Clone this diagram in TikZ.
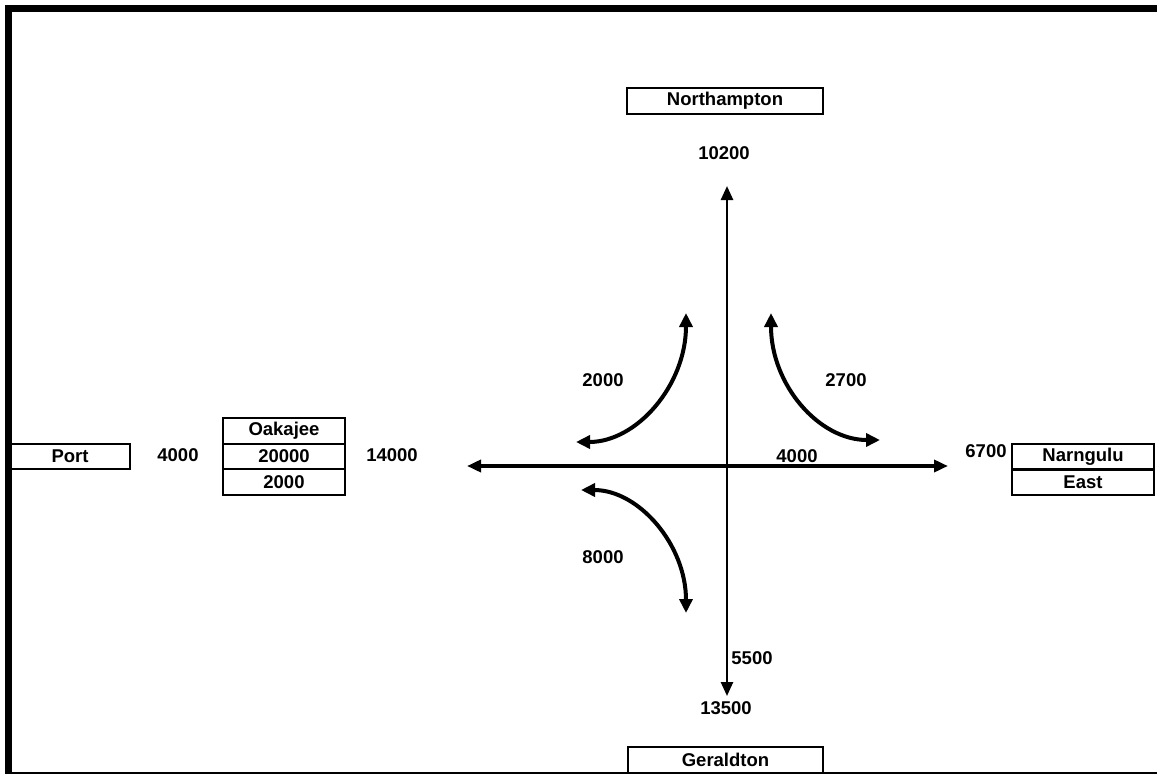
\documentclass[tikz,border=0pt]{standalone}
\usepackage{fontspec}
\setmainfont{Liberation Sans}
\usetikzlibrary{arrows.meta}
\usetikzlibrary{positioning}

\tikzset{
  cell/.style={draw=black, line width=2pt, minimum width=#1, minimum height=25.5pt, inner sep=0pt, anchor=north west},
  flow/.style={inner sep=0pt},
  axis/.style={{Triangle[length=14pt,width=12pt]}-{Triangle[length=14pt,width=12pt]}},
  turn/.style={line width=4pt, {Triangle[length=14pt,width=13pt]}-{Triangle[length=14pt,width=13pt]}},
}

\begin{document}
\begin{tikzpicture}[x=1pt, y=-1pt, font=\fontsize{18.5}{21}\selectfont\bfseries]
\useasboundingbox (0,0) rectangle (1157,774);

% frame
\draw[line width=6.5pt, line join=miter] (8.5,776) -- (8.5,8.5) -- (1160,8.5);
\draw[line width=2pt] (8.5,772.5) -- (1157,772.5);

% places
\node[cell=196pt] (north) at (626,87) {Northampton};
\node[cell=195pt, minimum height=27pt] (south) at (627,745.5) {Geraldton};
\node[cell=120pt] (port) at (9,442.5) {Port};
\node[cell=122pt] (oak) at (222,417) {Oakajee};
\node[cell=122pt] (oaka) at (222,442.5) {20000};
\node[cell=122pt] (oakb) at (222,468) {2000};
\node[cell=142pt] (narn) at (1011,443) {Narngulu};
\node[cell=142pt] (east) at (1011,468) {East};

% volumes
\node[flow] (vnorth) at (724,153) {10200};
\node[flow] (vport) at (178,455) {4000};
\node[flow] (voak) at (392,455) {14000};
\node[flow] (vthru) at (797,456) {4000};
\node[flow] (vnarn) at (986,451) {6700};
\node[flow] (vnw) at (603,380) {2000};
\node[flow] (vne) at (846,380) {2700};
\node[flow] (vsw) at (603,557) {8000};
\node[flow] (vsouth) at (752,658) {5500};
\node[flow] (vgeral) at (726,708) {13500};

% intersection
\coordinate (west end) at (467,466);
\coordinate (east end) at (948,466);
\coordinate (north end) at (727,186);
\coordinate (south end) at (727,696);
\draw[axis, line width=4.5pt] (west end) -- (east end);
\draw[axis, line width=2.5pt] (north end) -- (south end);

% turning movements
\coordinate (nw a) at (576,442);
\coordinate (nw b) at (686,313);
\coordinate (ne a) at (880,440);
\coordinate (ne b) at (771,313);
\coordinate (sw a) at (581,490);
\coordinate (sw b) at (686,613);
\draw[turn] (nw a) .. controls (637,442) and (686,385) .. (nw b);
\draw[turn] (ne a) .. controls (819,440) and (771,385) .. (ne b);
\draw[turn] (sw a) .. controls (639,490) and (686,545) .. (sw b);
\end{tikzpicture}
\end{document}
